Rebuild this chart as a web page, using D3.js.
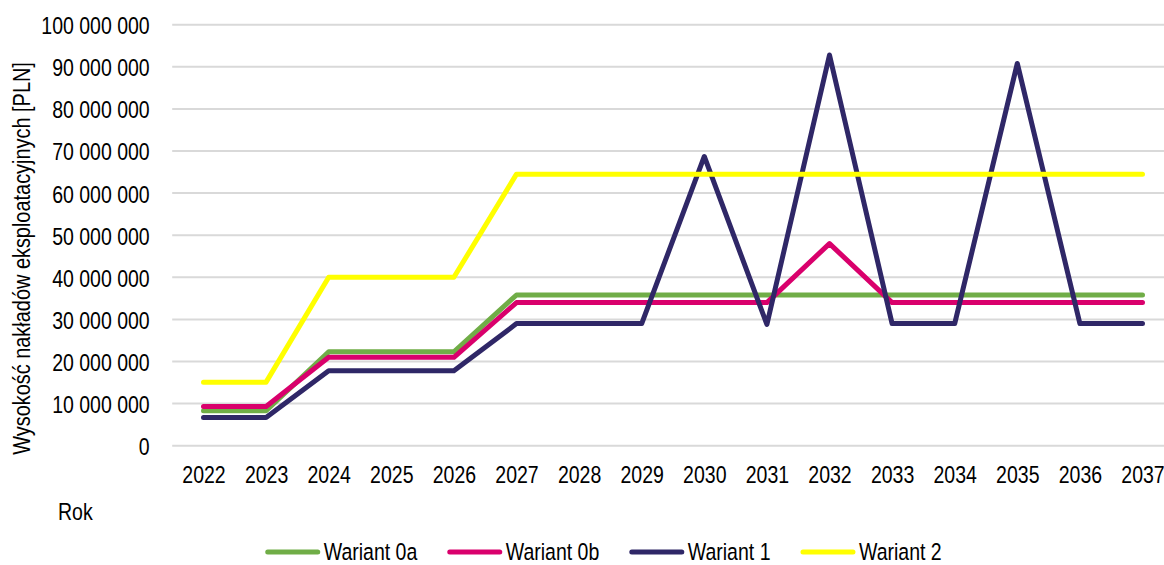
<!DOCTYPE html>
<html>
<head>
<meta charset="utf-8">
<script src="https://cdn.jsdelivr.net/npm/d3@7"></script>
<style>
  html, body { margin: 0; padding: 0; background: #fff; }
  svg text { font-family: "Liberation Sans", Arial, sans-serif; fill: #000; }
</style>
</head>
<body>
<svg id="chart" width="1164" height="565"></svg>
<script>
// Years on the horizontal axis
const years = ["2022","2023","2024","2025","2026","2027","2028","2029","2030","2031","2032","2033","2034","2035","2036","2037"];

// Operating costs per variant [PLN]
const wariant0a = [8300000, 8300000, 22300000, 22300000, 22300000, 35800000, 35800000, 35800000, 35800000, 35800000, 35800000, 35800000, 35800000, 35800000, 35800000, 35800000];
const wariant0b = [9300000, 9300000, 21000000, 21000000, 21000000, 34000000, 34000000, 34000000, 34000000, 34000000, 48000000, 34000000, 34000000, 34000000, 34000000, 34000000];
const wariant1  = [6700000, 6700000, 17800000, 17800000, 17800000, 29000000, 29000000, 29000000, 68700000, 28800000, 92800000, 29000000, 29000000, 90800000, 29000000, 29000000];
const wariant2  = [15100000, 15100000, 40000000, 40000000, 40000000, 64500000, 64500000, 64500000, 64500000, 64500000, 64500000, 64500000, 64500000, 64500000, 64500000, 64500000];

const seriesNames = ["Wariant 0a", "Wariant 0b", "Wariant 1", "Wariant 2"];
const seriesColors = ["#70ad47", "#d9006c", "#2f2767", "#ffff00"];
const yTicks = [0, 10000000, 20000000, 30000000, 40000000, 50000000, 60000000, 70000000, 80000000, 90000000, 100000000];

const series = [wariant0a, wariant0b, wariant1, wariant2].map((values, i) => ({
  name: seriesNames[i], color: seriesColors[i], values
}));

const svg = d3.select("#chart");
const fontSize = 23.5;
const narrow = 0.83; // horizontal squeeze giving a narrow sans look

const plot = { left: 172.2, right: 1173.8, top: 24.7, bottom: 445.7 };

const x = d3.scalePoint().domain(years).range([plot.left, plot.right]).padding(0.5);
const y = d3.scaleLinear().domain([0, 100000000]).range([plot.bottom, plot.top]);

const fmt = v => d3.format(",")(v).replace(/,/g, " ");

// horizontal gridlines
svg.append("g")
  .selectAll("line")
  .data(yTicks)
  .join("line")
  .attr("x1", plot.left).attr("x2", plot.right)
  .attr("y1", d => y(d)).attr("y2", d => y(d))
  .attr("stroke", "#d9d9d9")
  .attr("stroke-width", 2);

// y-axis tick labels
const yAxis = d3.axisLeft(y).tickValues(yTicks).tickFormat(fmt).tickSize(0).tickPadding(22.5);
const gy = svg.append("g").attr("transform", `translate(${plot.left},0)`).call(yAxis);
gy.select(".domain").remove();
gy.selectAll("text")
  .attr("font-size", fontSize)
  .attr("font-family", null)
  .attr("dy", "0.38em");

// x-axis tick labels
const xAxis = d3.axisBottom(x).tickSize(0).tickPadding(0);
const gx = svg.append("g").attr("transform", `translate(0,${plot.bottom})`).call(xAxis);
gx.select(".domain").remove();
gx.selectAll("text")
  .attr("font-size", fontSize)
  .attr("font-family", null)
  .attr("y", 37.5)
  .attr("dy", 0);

// series lines
const line = d3.line()
  .x((d, i) => x(years[i]))
  .y(d => y(d));

svg.append("g")
  .selectAll("path")
  .data(series)
  .join("path")
  .attr("d", d => line(d.values))
  .attr("fill", "none")
  .attr("stroke", d => d.color)
  .attr("stroke-width", 5)
  .attr("stroke-linejoin", "round")
  .attr("stroke-linecap", "round");

// axis titles
svg.append("text")
  .attr("transform", "translate(30,258.5) rotate(-90)")
  .attr("text-anchor", "middle")
  .attr("font-size", 24)
  .text("Wysokość nakładów eksploatacyjnych [PLN]");

svg.append("text")
  .attr("x", 58).attr("y", 520)
  .attr("font-size", fontSize)
  .text("Rok");

// legend
const legend = svg.append("g");
const swatch = 50, gapText = 6, gapItem = 32.5, legendY = 552, legendCenter = 604.7;
const items = legend.selectAll("g").data(series).join("g");
items.append("line")
  .attr("x1", 0).attr("x2", swatch)
  .attr("y1", 0).attr("y2", 0)
  .attr("stroke", d => d.color)
  .attr("stroke-width", 5)
  .attr("stroke-linecap", "round");
items.append("text")
  .attr("x", swatch + gapText)
  .attr("y", 7.8)
  .attr("font-size", fontSize)
  .text(d => d.name);

// squeeze every label horizontally, keeping its anchor point in place
svg.selectAll("text").each(function () {
  const t = d3.select(this);
  const x0 = +(t.attr("x") || 0);
  const tr = t.attr("transform") || "";
  t.attr("x", x0 / narrow).attr("transform", `${tr} scale(${narrow},1)`.trim());
});

let offsets = [], cursor = 0;
items.each(function () {
  offsets.push(cursor);
  const w = this.querySelector("text").getComputedTextLength() * narrow;
  cursor += swatch + gapText + w + gapItem;
});
const totalWidth = cursor - gapItem;
const startX = legendCenter - totalWidth / 2;
items.attr("transform", (d, i) => `translate(${startX + offsets[i]},${legendY})`);
</script>
</body>
</html>
